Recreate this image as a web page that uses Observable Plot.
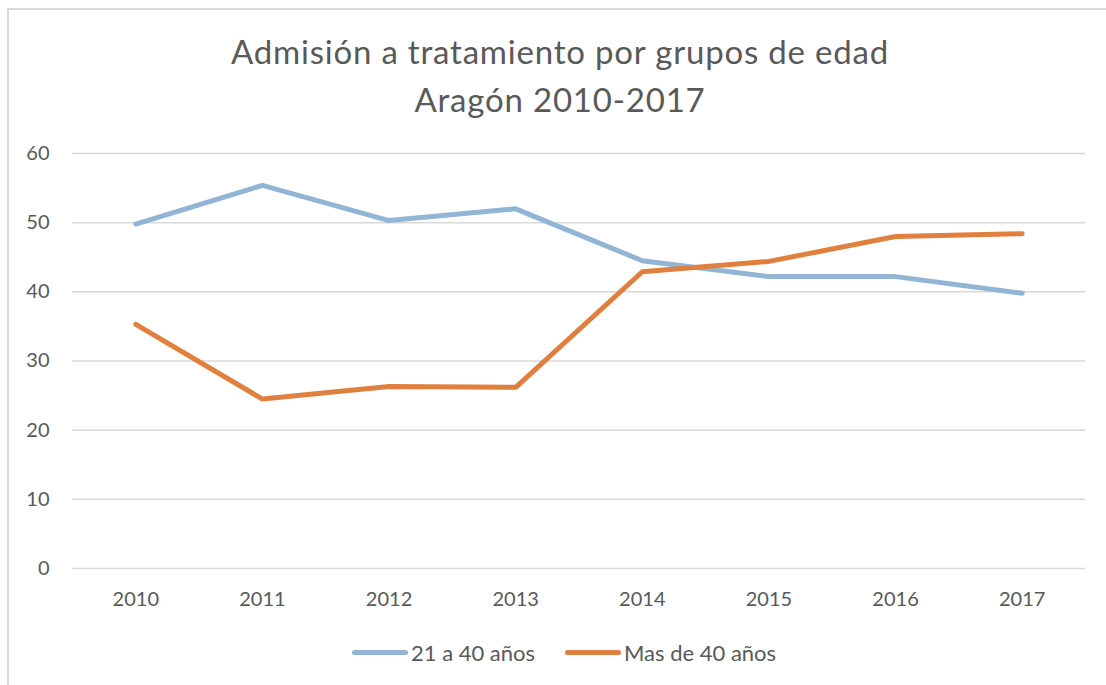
<!DOCTYPE html>
<html><head><meta charset="utf-8">
<script src="https://cdn.jsdelivr.net/npm/d3@7"></script>
<script src="https://cdn.jsdelivr.net/npm/@observablehq/plot@0.6"></script>
<style>
html,body{margin:0;padding:0;background:#fff;width:1106px;height:685px;overflow:hidden;font-family:Lato,"Open Sans",sans-serif;color:#595959;}
#frame{position:absolute;left:7px;top:8px;width:1110px;height:700px;border:2px solid #d9d9d9;box-sizing:border-box;}
#title{position:absolute;left:7px;width:1106px;top:27px;text-align:center;font-size:33px;line-height:48px;letter-spacing:0.8px;color:#595959;}
#chart{position:absolute;left:0;top:130px;}
#legend{position:absolute;top:638px;left:0;width:1106px;height:28px;}
.li{position:absolute;top:0;display:flex;align-items:center;font-size:22px;height:28px;color:#595959;}
.sw{width:56px;height:5px;border-radius:3px;margin-right:3px;}
</style></head>
<body>
<div id="frame"></div>
<div id="title">Admisión a tratamiento por grupos de edad<br>Aragón 2010-2017</div>
<div id="chart"></div>
<div id="legend"></div>
<script>
const years = ["2010","2011","2012","2013","2014","2015","2016","2017"];
const serie21a40 = [49.8, 55.4, 50.3, 52.0, 44.5, 42.2, 42.2, 39.8];
const serieMas40 = [35.3, 24.5, 26.3, 26.2, 42.9, 44.4, 48.0, 48.4];
const seriesNames = ["21 a 40 años", "Mas de 40 años"];
const seriesColors = ["#92b4d5", "#e0803f"];
const yTicks = [0, 10, 20, 30, 40, 50, 60];

const rows = [];
years.forEach((y, i) => {
  rows.push({year: y, value: serie21a40[i], serie: seriesNames[0]});
  rows.push({year: y, value: serieMas40[i], serie: seriesNames[1]});
});

const plot = Plot.plot({
  width: 1106,
  height: 500,
  marginLeft: 72,
  marginRight: 21,
  marginTop: 23,
  marginBottom: 62,
  style: {fontFamily: "Lato, 'Open Sans', sans-serif", fontSize: "20px", color: "#595959", background: "transparent"},
  x: {type: "point", domain: years, padding: 0.5, round: false, label: null},
  y: {domain: [0, 60], label: null},
  color: {domain: seriesNames, range: seriesColors},
  marks: [
    Plot.gridY(yTicks, {stroke: "#d9d9d9", strokeOpacity: 1, strokeWidth: 1.5}),
    Plot.axisY(yTicks, {tickSize: 0, tickPadding: 23, label: null, fill: "#595959"}),
    Plot.axisX({tickSize: 0, tickPadding: 23, label: null, fill: "#595959"}),
    Plot.line(rows, {x: "year", y: "value", z: "serie", stroke: "serie", strokeWidth: 5, strokeLinecap: "round", strokeLinejoin: "round"})
  ]
});
document.getElementById("chart").appendChild(plot);

const legend = document.getElementById("legend");
const lefts = [352, 565];
seriesNames.forEach((n, i) => {
  const d = document.createElement("div");
  d.className = "li";
  d.style.left = lefts[i] + "px";
  d.innerHTML = `<div class="sw" style="background:${seriesColors[i]}"></div><span>${n}</span>`;
  legend.appendChild(d);
});
</script>
</body></html>
